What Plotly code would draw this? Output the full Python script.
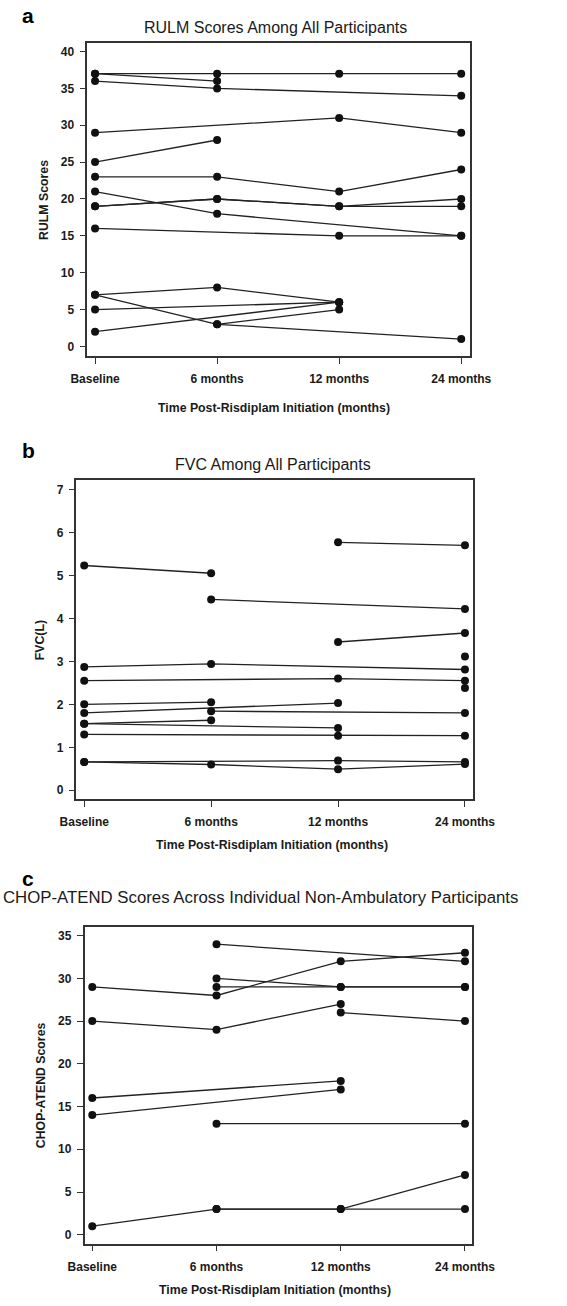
import plotly.graph_objects as go

timepoints = ["Baseline", "6 months", "12 months", "24 months"]

# Panel a: RULM scores per participant (None = not assessed)
rulm = [
    [37, 37, 37, 37],
    [37, 36, None, None],
    [36, 35, None, 34],
    [29, None, 31, 29],
    [25, 28, None, None],
    [23, 23, 21, 24],
    [21, 18, None, 15],
    [19, 20, 19, 20],
    [19, 20, 19, 19],
    [16, None, 15, 15],
    [7, 8, 6, None],
    [7, 3, None, 1],
    [5, None, 6, None],
    [2, None, 6, None],
    [None, 3, 5, None],
]

# Panel b: FVC (L) per participant
fvc = [
    [5.23, 5.05, None, None],
    [None, 4.44, None, 4.22],
    [None, None, 5.77, 5.70],
    [None, None, 3.45, 3.66],
    [None, None, None, 3.11],
    [2.87, 2.94, None, 2.81],
    [2.55, None, 2.60, 2.55],
    [None, None, None, 2.38],
    [2.00, 2.05, None, None],
    [1.80, None, 2.03, None],
    [None, 1.84, None, 1.80],
    [1.55, 1.63, None, None],
    [1.55, None, 1.45, None],
    [1.30, None, 1.27, 1.27],
    [0.66, None, 0.69, 0.66],
    [0.66, 0.60, 0.49, 0.61],
]

# Panel c: CHOP-ATEND scores per participant
chop = [
    [None, 34, None, 32],
    [29, 28, 32, 33],
    [None, 30, 29, 29],
    [None, 29, 29, 29],
    [25, 24, 27, None],
    [None, None, 26, 25],
    [16, None, 18, None],
    [14, None, 17, None],
    [None, 13, None, 13],
    [1, 3, 3, 7],
    [None, 3, 3, 3],
]

panel_titles = [
    "RULM Scores Among All Participants",
    "FVC Among All Participants",
    "CHOP-ATEND Scores Across Individual Non-Ambulatory Participants",
]
y_titles = ["RULM Scores", "FVC(L)", "CHOP-ATEND Scores"]
x_title = "Time Post-Risdiplam Initiation (months)"
panel_letters = ["a", "b", "c"]

W, H = 567, 1306
FONT = "Liberation Sans, Arial, sans-serif"
INK = "#1a1a1a"

def px_x(v):
    return v / W

def px_y(v):
    return 1 - v / H

# layout geometry in pixels: (left, right, top, bottom)
boxes = [
    (75.7, 487.0, 42.7, 356.0),
    (64.0, 490.7, 480.0, 799.3),
    (72.7, 490.0, 926.7, 1243.7),
]
xranges = [[-0.063, 3.069], [-0.061, 3.064], [-0.062, 3.06]]
yranges = [[-1.3, 41.2], [-0.21, 7.22], [-1.05, 36.05]]
ydticks = [5, 1, 5]
ymaxtick = [40, 7, 35]

fig = go.Figure()
datasets = [rulm, fvc, chop]
for i, data in enumerate(datasets):
    xa = "x" if i == 0 else f"x{i+1}"
    ya = "y" if i == 0 else f"y{i+1}"
    for row in data:
        fig.add_trace(go.Scatter(
            x=timepoints, y=row, xaxis=xa, yaxis=ya,
            mode="lines+markers", connectgaps=True,
            line=dict(color="#222222", width=1.3),
            marker=dict(color="#111111", size=8),
            showlegend=False, hoverinfo="skip",
        ))

layout = dict(
    width=W, height=H, margin=dict(l=0, r=0, t=0, b=0),
    paper_bgcolor="white", plot_bgcolor="white",
    font=dict(family=FONT, color=INK),
    showlegend=False,
)
annotations = []
for i in range(3):
    l, r, t, b = boxes[i]
    xk = "xaxis" if i == 0 else f"xaxis{i+1}"
    yk = "yaxis" if i == 0 else f"yaxis{i+1}"
    anchor_x = "y" if i == 0 else f"y{i+1}"
    anchor_y = "x" if i == 0 else f"x{i+1}"
    layout[xk] = dict(
        domain=[px_x(l), px_x(r)], anchor=anchor_x, type="category",
        range=xranges[i], showgrid=False, zeroline=False,
        showline=True, linecolor="#333333", linewidth=1.5, mirror=True,
        ticks="outside", ticklen=6, tickcolor="#333333", tickwidth=1.2,
        tickfont=dict(family=FONT, size=12, color=INK, weight="bold"),
        ticklabelstandoff=5,
    )
    tv = list(range(0, ymaxtick[i] + 1, ydticks[i]))
    layout[yk] = dict(
        domain=[px_y(b), px_y(t)], anchor=anchor_y,
        range=yranges[i], showgrid=False, zeroline=False,
        showline=True, linecolor="#333333", linewidth=1.5, mirror=True,
        ticks="outside", ticklen=6, tickcolor="#333333", tickwidth=1.2,
        tickvals=tv, ticktext=[str(v) for v in tv],
        tickfont=dict(family=FONT, size=12, color=INK, weight="bold"),
        ticklabelstandoff=3,
    )

title_pos = [(278, 28, 16), (275.5, 464, 16), (262, 897, 16.8)]
xtitle_pos = [(276, 408), (274, 845), (278, 1290)]
ytitle_pos = [(29, 200), (25, 640), (26, 1085)]
letter_pos = [(12, 16), (12, 450), (12, 878)]

for i in range(3):
    tx, ty, ts = title_pos[i]
    annotations.append(dict(
        text=panel_titles[i], x=px_x(tx), y=px_y(ty), xref="paper", yref="paper",
        xanchor="center", yanchor="middle", showarrow=False,
        font=dict(family=FONT, size=ts, color=INK)))
    ax_, ay_ = xtitle_pos[i]
    annotations.append(dict(
        text=x_title, x=px_x(ax_), y=px_y(ay_), xref="paper", yref="paper",
        xanchor="center", yanchor="middle", showarrow=False,
        font=dict(family=FONT, size=12.3, color=INK, weight="bold")))
    yx, yy = ytitle_pos[i]
    annotations.append(dict(
        text=y_titles[i], x=px_x(yx), y=px_y(yy), xref="paper", yref="paper",
        xanchor="center", yanchor="middle", showarrow=False, textangle=-90,
        font=dict(family=FONT, size=12.3, color=INK, weight="bold")))
    lx, ly = letter_pos[i]
    annotations.append(dict(
        text=panel_letters[i], x=px_x(lx), y=px_y(ly), xref="paper", yref="paper",
        xanchor="center", yanchor="middle", showarrow=False,
        font=dict(family=FONT, size=21, color="#000000", weight="bold")))

layout["annotations"] = annotations
fig.update_layout(**layout)
fig.write_html("out.html")
